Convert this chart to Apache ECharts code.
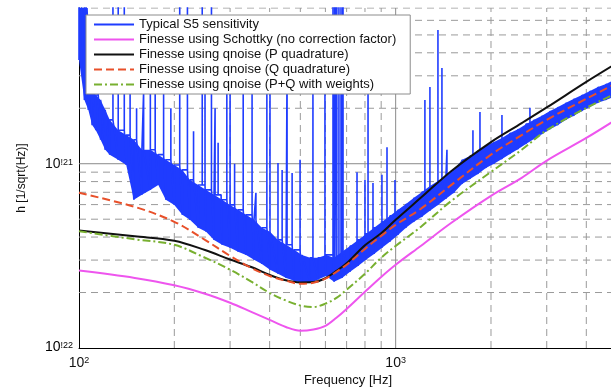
<!DOCTYPE html>
<html><head><meta charset="utf-8">
<script src="https://cdn.jsdelivr.net/npm/echarts@6/dist/echarts.min.js"></script>
<style>html,body{margin:0;padding:0;background:#fff}#c{width:611px;height:390px}</style>
</head><body><div id="c"></div>
<script>
// ---- data (frequency in Hz, strain h in 1/sqrt(Hz)) ----
const freqGrid = [100,150,200,250,300,350,400,450,500,550,600,650,700,800,900,1000,1200,1500,2000,2500,3000,4000,5000];
const schottky = [2.63e-22,2.40e-22,2.19e-22,1.97e-22,1.76e-22,1.57e-22,1.42e-22,1.30e-22,1.24e-22,1.26e-22,1.32e-22,1.46e-22,1.63e-22,2.02e-22,2.43e-22,2.83e-22,3.58e-22,4.78e-22,6.69e-22,8.38e-22,1.04e-21,1.38e-21,1.75e-21];
const qnoiseP  = [4.34e-22,4.04e-22,3.82e-22,3.40e-22,3.02e-22,2.75e-22,2.49e-22,2.33e-22,2.27e-22,2.28e-22,2.39e-22,2.62e-22,2.88e-22,3.61e-22,4.19e-22,4.96e-22,6.53e-22,9.14e-22,1.31e-21,1.66e-21,2.02e-21,2.78e-21,3.52e-21];
const qnoiseQ  = [6.95e-22,5.83e-22,4.84e-22,3.86e-22,3.16e-22,2.72e-22,2.46e-22,2.32e-22,2.23e-22,2.26e-22,2.38e-22,2.59e-22,2.83e-22,3.45e-22,4.06e-22,4.66e-22,5.69e-22,7.68e-22,1.12e-21,1.43e-21,1.73e-21,2.25e-21,2.74e-21];
const qnoisePQ = [4.30e-22,3.89e-22,3.63e-22,3.09e-22,2.66e-22,2.29e-22,1.99e-22,1.81e-22,1.70e-22,1.67e-22,1.74e-22,1.87e-22,2.07e-22,2.53e-22,3.09e-22,3.58e-22,4.54e-22,6.29e-22,9.03e-22,1.19e-21,1.52e-21,2.01e-21,2.42e-21];

// S5 sensitivity: lower / upper edge of the noisy band, plus line spikes
const blueFreq = [100,104,107,110,113,117,121,125,133,141,149,158,168,178,188,200,212,224,238,252,267,283,300,318,337,357,378,401,425,451,478,506,537,569,603,639,677,718,761,806,855,906,959,1017,1078,1142,1211,1283,1360,1442,1528,1620,1717,1819,1928,2044,2166,2296,2433,2579,2734,2897,3071,3255,3450,3656,3876,4108,4354,4615,4891];
const blueLow  = [3.65e-21,2.22e-21,1.96e-21,1.62e-21,1.52e-21,1.35e-21,1.19e-21,1.12e-21,1.05e-21,9.85e-22,6.37e-22,6.78e-22,7.21e-22,7.67e-22,6.37e-22,5.98e-22,5.28e-22,4.96e-22,4.49e-22,4.27e-22,3.86e-22,3.63e-22,3.50e-22,3.33e-22,3.20e-22,3.01e-22,2.86e-22,2.66e-22,2.53e-22,2.40e-22,2.32e-22,2.26e-22,2.26e-22,2.35e-22,2.46e-22,2.29e-22,2.40e-22,2.59e-22,2.79e-22,3.01e-22,3.24e-22,3.50e-22,3.77e-22,4.11e-22,4.49e-22,4.84e-22,5.15e-22,5.55e-22,5.98e-22,6.45e-22,6.95e-22,7.77e-22,8.27e-22,8.80e-22,9.49e-22,1.0e-21,1.06e-21,1.13e-21,1.20e-21,1.28e-21,1.36e-21,1.45e-21,1.54e-21,1.62e-21,1.73e-21,1.82e-21,1.93e-21,2.03e-21,2.14e-21,2.22e-21,2.30e-21];
const blueHigh = [2e-20,2e-20,6.0e-21,2.85e-21,2.36e-21,2.22e-21,1.96e-21,1.73e-21,1.52e-21,1.43e-21,1.35e-21,1.19e-21,1.19e-21,1.12e-21,1.05e-21,9.85e-22,9.26e-22,8.17e-22,7.67e-22,7.21e-22,6.78e-22,6.37e-22,5.98e-22,5.62e-22,5.28e-22,4.96e-22,4.49e-22,4.27e-22,3.86e-22,3.63e-22,3.41e-22,3.20e-22,3.09e-22,3.09e-22,3.20e-22,3.09e-22,3.33e-22,3.58e-22,3.86e-22,4.16e-22,4.49e-22,4.84e-22,5.21e-22,5.62e-22,6.05e-22,6.53e-22,7.03e-22,7.58e-22,8.07e-22,8.59e-22,9.26e-22,1.05e-21,1.10e-21,1.17e-21,1.25e-21,1.31e-21,1.38e-21,1.47e-21,1.54e-21,1.64e-21,1.73e-21,1.82e-21,1.93e-21,2.03e-21,2.14e-21,2.25e-21,2.36e-21,2.48e-21,2.61e-21,2.71e-21,2.85e-21];
const spikeFreq = [115,128,133,139,145,152,160,168,174,185,195,208,220,230,245,250,262,269,275,281,293,300,310,330,352,362,392,401,425,438,454,471,499,548,598,634,643,652,662,672,682,755,800,818,848,905,939,995,1237,1283,1360,1400,1452,1754,1846,2166,2655];
const spikePeak = [6.0e-21,2e-20,2e-20,2e-20,2.5e-21,2.0e-21,2.5e-21,3.6e-21,3.6e-21,2.5e-21,2.0e-21,2e-20,2e-20,1.5e-21,2e-20,3.6e-21,2e-20,2.0e-21,1.3e-21,6.95e-22,3.6e-21,3.6e-21,1.0e-21,3.6e-21,3.6e-21,6.95e-22,3.6e-21,3.6e-21,1.01e-21,9.25e-22,3.6e-21,8.9e-22,1.05e-21,3.6e-21,3.6e-21,2e-20,2e-20,2e-20,2e-20,2e-20,2e-20,9.0e-22,8.16e-22,3.6e-21,7.87e-22,8.7e-22,1.23e-21,8.16e-22,2.22e-21,2.61e-21,5.31e-21,3.31e-21,1.19e-21,1.52e-21,1.91e-21,1.84e-21,2.01e-21];

const seriesNames = ['Typical S5 sensitivity','Finesse using Schottky (no correction factor)','Finesse using qnoise (P quadrature)','Finesse using qnoise (Q quadrature)','Finesse using qnoise (P+Q with weights)'];
const xRange = [100, 5000];
const yRange = [1e-22, 7e-21];
const xMinorGrid = [200,300,400,500,600,700,800,900,2000,3000,4000];
const yMinorGrid = [2e-22,3e-22,4e-22,5e-22,6e-22,7e-22,8e-22,9e-22,2e-21,3e-21,4e-21,5e-21,6e-21,7e-21];
const xMajorGrid = [1000];
const yMajorGrid = [1e-21];
const yNegSign = '!';

// ---- build ----
const pairs = (xs, ys) => xs.map((x, i) => [x, ys[i]]);
const blueTrace = [];
let s = 0;
for (let i = 0; i < blueFreq.length; i++) {
  blueTrace.push([blueFreq[i], blueLow[i]], [blueFreq[i], blueHigh[i]]);
  const next = i + 1 < blueFreq.length ? blueFreq[i + 1] : Infinity;
  while (s < spikeFreq.length && spikeFreq[s] < next) {
    if (spikeFreq[s] >= blueFreq[i]) {
      blueTrace.push([spikeFreq[s], blueHigh[i]], [spikeFreq[s], spikePeak[s]], [spikeFreq[s], blueHigh[i]]);
    }
    s++;
  }
}

// grid lines as broken polylines spanning the axis range
const vLines = vals => { const d = []; vals.forEach(v => d.push([v, yRange[0]], [v, yRange[1]], [v, '-'])); return d; };
const hLines = vals => { const d = []; vals.forEach(v => d.push([xRange[0], v], [xRange[1], v], ['-', v])); return d; };
const gridSeries = (data, type, color) => ({
  type: 'line', data, symbol: 'none', silent: true, z: 1, connectNulls: false,
  lineStyle: {color, width: 1, type}, emphasis: {disabled: true}, tooltip: {show: false}
});

const FONT = '"Liberation Sans", Arial, Helvetica, sans-serif';
const pow10 = v => { if (!(v > 0)) return null; const e = Math.round(Math.log10(v)); return Math.abs(v / Math.pow(10, e) - 1) < 1e-6 ? e : null; };
const supText = (e, neg) => '{b|10}{s|' + (e < 0 ? neg + (-e) : e) + '}';
const labelRich = {
  b: {fontSize: 14, lineHeight: 12, color: '#111', fontFamily: FONT},
  s: {fontSize: 9, lineHeight: 8, verticalAlign: 'top', color: '#111', fontFamily: FONT}
};
const yMinExp = pow10(yRange[0]);

const chart = echarts.init(document.getElementById('c'), null, {renderer: 'canvas'});
chart.setOption({
  animation: false,
  backgroundColor: '#fff',
  textStyle: {fontFamily: FONT},
  grid: {left: 79, right: -6, top: 8, bottom: 42, containLabel: false, outerBoundsMode: 'none'},
  legend: {
    data: seriesNames, orient: 'vertical', left: 86, top: 15,
    itemWidth: 40, itemHeight: 12, itemGap: 2, padding: [3, 14, 3, 7],
    backgroundColor: '#fff', borderColor: '#8c8c8c', borderWidth: 1,
    itemStyle: {opacity: 0},
    textStyle: {fontSize: 13, color: '#111', fontFamily: FONT, lineHeight: 13},
    selectedMode: false
  },
  xAxis: {
    type: 'log', logBase: 10, min: xRange[0], max: xRange[1],
    name: 'Frequency [Hz]', nameLocation: 'middle', nameGap: 26, nameMoveOverlap: false,
    nameTextStyle: {fontSize: 13, color: '#111', fontFamily: FONT},
    axisLine: {lineStyle: {color: '#000', width: 1}},
    axisTick: {show: false},
    splitLine: {show: false},
    axisLabel: {
      margin: 8, showMinLabel: true, hideOverlap: false,
      formatter: v => { const e = pow10(v); return e === null ? '' : supText(e, '-'); },
      rich: {
        b: {fontSize: 14, lineHeight: 15, color: '#111', fontFamily: FONT},
        s: {fontSize: 9, lineHeight: 9, verticalAlign: 'top', color: '#111', fontFamily: FONT}
      }
    }
  },
  yAxis: {
    type: 'log', logBase: 10, min: yRange[0], max: yRange[1],
    name: 'h [1/sqrt(Hz)]', nameLocation: 'middle', nameGap: 51, nameRotate: 90, nameMoveOverlap: false,
    nameTextStyle: {fontSize: 12, color: '#111', fontFamily: FONT},
    axisLine: {show: true, lineStyle: {color: '#000', width: 1}},
    axisTick: {show: false},
    splitLine: {show: false},
    axisLabel: {
      margin: 6, showMinLabel: true, hideOverlap: false,
      // the axis-minimum label is drawn separately below (the axis drops it at the corner)
      formatter: v => { const e = pow10(v); return (e === null || e === yMinExp) ? '' : supText(e, yNegSign); },
      rich: labelRich
    }
  },
  series: [
    gridSeries(vLines(xMinorGrid), [7, 5], '#9a9a9a'),
    gridSeries(hLines(yMinorGrid), [7, 5], '#9a9a9a'),
    gridSeries(vLines(xMajorGrid), 'solid', '#8a8a8a'),
    gridSeries(hLines(yMajorGrid), 'solid', '#8a8a8a'),
    {
      type: 'custom', silent: true, z: 2, data: [[blueFreq[0], blueLow[0]]],
      renderItem: (params, api) => {
        const pts = [];
        for (let i = 0; i < blueFreq.length; i++) pts.push(api.coord([blueFreq[i], blueLow[i]]));
        for (let i = blueFreq.length - 1; i >= 0; i--) pts.push(api.coord([blueFreq[i], blueHigh[i]]));
        const cs = params.coordSys;
        return {type: 'polygon', shape: {points: pts}, style: {fill: '#1f3cff'},
          clipPath: {type: 'rect', shape: {x: cs.x, y: cs.y, width: cs.width, height: cs.height}}};
      }
    },
    {name: seriesNames[0], type: 'line', data: blueTrace, symbol: 'none', z: 3,
      lineStyle: {color: '#1f3cff', width: 1.6}, itemStyle: {color: '#1f3cff'}},
    {name: seriesNames[1], type: 'line', data: pairs(freqGrid, schottky), symbol: 'none', smooth: 0.35, z: 4,
      lineStyle: {color: '#ee55ee', width: 2}, itemStyle: {color: '#ee55ee'}},
    {name: seriesNames[2], type: 'line', data: pairs(freqGrid, qnoiseP), symbol: 'none', smooth: 0.35, z: 4,
      lineStyle: {color: '#111111', width: 2}, itemStyle: {color: '#111111'}},
    {name: seriesNames[3], type: 'line', data: pairs(freqGrid, qnoiseQ), symbol: 'none', smooth: 0.35, z: 5,
      lineStyle: {color: '#e8502a', width: 2, type: [8, 4]}, itemStyle: {color: '#e8502a'}},
    {name: seriesNames[4], type: 'line', data: pairs(freqGrid, qnoisePQ), symbol: 'none', smooth: 0.35, z: 5,
      lineStyle: {color: '#78b030', width: 2, type: [8, 3, 2, 3]}, itemStyle: {color: '#78b030'}}
  ]
});

// y-axis minimum label, positioned through the axis scale
const pMin = chart.convertToPixel({gridIndex: 0}, [xRange[0], yRange[0]]);
chart.setOption({
  graphic: [{
    type: 'text', x: pMin[0] - 6, y: pMin[1] - 1, silent: true, z: 10,
    style: {text: supText(yMinExp, yNegSign), rich: labelRich, align: 'right', verticalAlign: 'middle', fontFamily: FONT}
  }]
});
</script>
</body></html>
